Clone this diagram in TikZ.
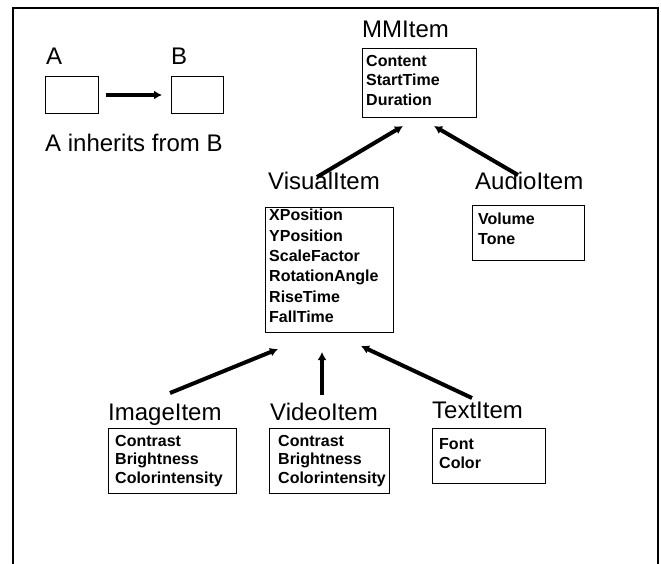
\documentclass[tikz,border=0pt]{standalone}
\usepackage{fontspec}
\setmainfont{Liberation Sans}
\usetikzlibrary{arrows.meta}
\begin{document}
\begin{tikzpicture}[x=1pt,y=-1pt,
  lbl/.style={anchor=base west,inner sep=0pt,font=\fontsize{24}{28}\selectfont},
  cbox/.style={draw,line width=1pt,anchor=north west,inner sep=0pt},
  attr/.style={anchor=north west,inner sep=0pt,align=left,font=\bfseries\fontsize{16}{19.5}\selectfont},
  inh/.style={line width=4pt,-{Latex[length=8pt,width=9pt]}}]
\useasboundingbox (0,0) rectangle (661,564);
\draw[line width=1.5pt] (13,564) -- (13,8) -- (658,8) -- (658,564);

% legend
\node[lbl] (lA) at (46,65) {A};
\node[lbl] (lB) at (171,65) {B};
\node[cbox,minimum width=53pt,minimum height=37pt] (boxA) at (45,76) {};
\node[cbox,minimum width=52pt,minimum height=37pt] (boxB) at (171,76) {};
\draw[inh] (boxA.east) ++(7,0) coordinate (aS) -- ([xshift=-9pt]boxB.west) coordinate (aE);
\node[lbl] (legend) at (45,152) {A inherits from B};

% MMItem
\node[lbl] (mmL) at (362,38) {MMItem};
\node[cbox,minimum width=114pt,minimum height=69pt] (mmB) at (362,48) {};
\node[attr] (mmA) at (366,55) {Content\\StartTime\\Duration};

% VisualItem
\node[lbl] (visL) at (268,190) {VisualItem};
\node[cbox,minimum width=128pt,minimum height=125pt] (visB) at (265,207) {};
\node[attr,font=\bfseries\fontsize{16}{20.4}\selectfont] (visA) at (269,209) {XPosition\\YPosition\\ScaleFactor\\RotationAngle\\RiseTime\\FallTime};

% AudioItem
\node[lbl] (audL) at (475,190) {AudioItem};
\node[cbox,minimum width=112pt,minimum height=55pt] (audB) at (472,205) {};
\node[attr,font=\bfseries\fontsize{16}{20}\selectfont] (audA) at (478,213) {Volume\\Tone};

% ImageItem
\node[lbl] (imgL) at (108,420) {ImageItem};
\node[cbox,minimum width=128pt,minimum height=65pt] (imgB) at (108,428) {};
\node[attr,font=\bfseries\fontsize{16}{18.5}\selectfont] (imgA) at (115,435) {Contrast\\Brightness\\Colorintensity};

% VideoItem
\node[lbl] (vidL) at (270,420) {VideoItem};
\node[cbox,minimum width=120pt,minimum height=65pt] (vidB) at (269,428) {};
\node[attr,font=\bfseries\fontsize{16}{18.5}\selectfont] (vidA) at (278,435) {Contrast\\Brightness\\Colorintensity};

% TextItem
\node[lbl] (txtL) at (432,418) {TextItem};
\node[cbox,minimum width=113pt,minimum height=55pt] (txtB) at (432,428) {};
\node[attr,font=\bfseries\fontsize{16}{19}\selectfont] (txtA) at (439,438) {Font\\Color};

% inheritance connectors
\coordinate (visS) at (317,177);
\coordinate (mmE1) at (403,126);
\coordinate (audS) at (518,175);
\coordinate (mmE2) at (434,126);
\coordinate (imgS) at (170,393);
\coordinate (visE1) at (278,349);
\coordinate (vidS) at (322,395);
\coordinate (visE2) at (322,352);
\coordinate (txtS) at (472,398);
\coordinate (visE3) at (361,346);
\draw[inh] (visS) -- (mmE1);
\draw[inh] (audS) -- (mmE2);
\draw[inh] (imgS) -- (visE1);
\draw[inh] (vidS) -- (visE2);
\draw[inh] (txtS) -- (visE3);
\end{tikzpicture}
\end{document}
